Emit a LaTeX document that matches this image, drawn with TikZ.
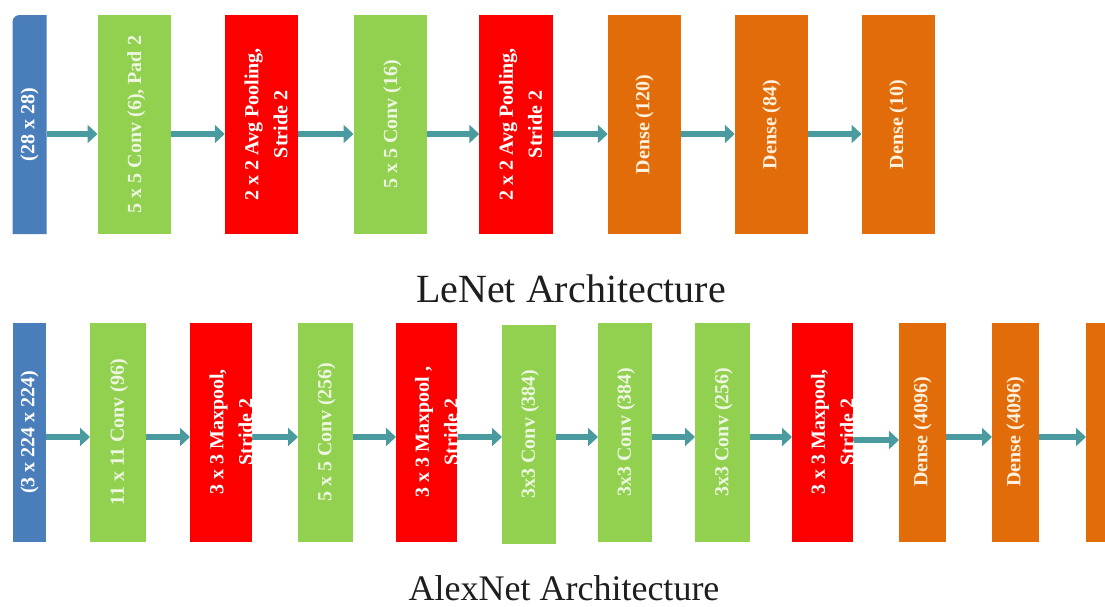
\documentclass[tikz,border=0pt]{standalone}
\usepackage{fontspec}
\setmainfont{Liberation Serif}
\usetikzlibrary{arrows.meta,calc}
\definecolor{blueC}{RGB}{74,126,187}
\definecolor{greenC}{RGB}{146,208,80}
\definecolor{redC}{RGB}{252,0,0}
\definecolor{orangeC}{RGB}{227,108,10}
\definecolor{arrowC}{RGB}{74,155,160}
\definecolor{greenTxt}{RGB}{236,246,224}
\definecolor{orangeTxt}{RGB}{255,241,222}
\definecolor{titleC}{RGB}{30,30,30}
\begin{document}
\begin{tikzpicture}[x=1pt,y=-1pt,
  layer/.style={inner sep=0pt, outer sep=0pt, draw=none},
  conv/.style={layer, fill=greenC},
  pool/.style={layer, fill=redC},
  dense/.style={layer, fill=orangeC},
  inp/.style={layer},
  lenet/.style={minimum height=219pt, minimum width=73.5pt},
  alex/.style={minimum height=219pt},
  txt/.style={rotate=90, font=\bfseries\fontsize{20}{29}\selectfont, inner sep=0pt, align=center, text=white},
  gtxt/.style={txt, text=greenTxt},
  otxt/.style={txt, text=orangeTxt},
  arr/.style={draw=arrowC, line width=5.5pt, -{Triangle[length=10pt,width=18pt]}},
  title/.style={text=titleC, anchor=base, inner sep=0pt}]
\useasboundingbox (0,0) rectangle (1105,606);
\clip (0,0) rectangle (1105,606);

% ---------------- LeNet ----------------
\node[inp, lenet, minimum width=34pt] (lin) at (29.5,124.5) {};
\fill[blueC] (lin.south west) -- ($(lin.north west)+(0,7)$) arc[start angle=180,end angle=270,radius=7] -- (lin.north east) -- (lin.south east) -- cycle;
\node[conv, lenet] (lc1) at (134.25,124.5) {};
\node[pool, lenet] (lp1) at (261.5,124.5) {};
\node[conv, lenet] (lc2) at (390.25,124.5) {};
\node[pool, lenet] (lp2) at (516,124.5) {};
\node[dense, lenet] (ld1) at (644.5,124.5) {};
\node[dense, lenet] (ld2) at (771.5,124.5) {};
\node[dense, lenet] (ld3) at (898.25,124.5) {};

\coordinate (ly) at (0,134);
\draw[arr] (lin.east |- ly) -- (lc1.west |- ly);
\draw[arr] (lc1.east |- ly) -- (lp1.west |- ly);
\draw[arr] (lp1.east |- ly) -- (lc2.west |- ly);
\draw[arr] (lc2.east |- ly) -- (lp2.west |- ly);
\draw[arr] (lp2.east |- ly) -- (ld1.west |- ly);
\draw[arr] (ld1.east |- ly) -- (ld2.west |- ly);
\draw[arr] (ld2.east |- ly) -- (ld3.west |- ly);

\node[txt] (lint) at (lin) {(28 x 28)};
\node[gtxt] (lc1t) at ($(lc1)+(2,0)$) {5 x 5 Conv (6), Pad 2};
\node[txt] (lp1t) at ($(lp1)+(4.5,0)$) {2 x 2 Avg Pooling,\\Stride 2};
\node[gtxt] (lc2t) at ($(lc2)+(2,0)$) {5 x 5 Conv (16)};
\node[txt] (lp2t) at ($(lp2)+(4.5,0)$) {2 x 2 Avg Pooling,\\Stride 2};
\node[otxt] (ld1t) at (ld1) {Dense (120)};
\node[otxt] (ld2t) at (ld2) {Dense (84)};
\node[otxt] (ld3t) at (ld3) {Dense (10)};

\node[title, font=\fontsize{40}{44}\selectfont] (ltitle) at (571,302) {LeNet Architecture};

% ---------------- AlexNet ----------------
\node[inp, alex, minimum width=33pt, fill=blueC] (ain) at (29.5,432) {};
\node[conv, alex, minimum width=56pt] (ac1) at (118,432) {};
\node[pool, alex, minimum width=62pt] (ap1) at (221,432) {};
\node[conv, alex, minimum width=55pt] (ac2) at (325.5,432) {};
\node[pool, alex, minimum width=61pt] (ap2) at (426.5,432) {};
\node[conv, alex, minimum width=54pt] (ac3) at (529,434) {};
\node[conv, alex, minimum width=54pt] (ac4) at (625,432) {};
\node[conv, alex, minimum width=55pt] (ac5) at (722.5,432) {};
\node[pool, alex, minimum width=61pt] (ap3) at (822.5,432) {};
\node[dense, alex, minimum width=47pt] (ad1) at (922.5,432) {};
\node[dense, alex, minimum width=47pt] (ad2) at (1015.5,432) {};
\node[dense, alex, minimum width=47pt] (ad3) at (1109.5,432) {};

\coordinate (ay) at (0,437);
\coordinate (ay2) at (0,440);
\draw[arr] (ain.east |- ay) -- (ac1.west |- ay);
\draw[arr] (ac1.east |- ay) -- (ap1.west |- ay);
\draw[arr] (ap1.east |- ay) -- (ac2.west |- ay);
\draw[arr] (ac2.east |- ay) -- (ap2.west |- ay);
\draw[arr] (ap2.east |- ay) -- (ac3.west |- ay);
\draw[arr] (ac3.east |- ay) -- (ac4.west |- ay);
\draw[arr] (ac4.east |- ay) -- (ac5.west |- ay);
\draw[arr] (ac5.east |- ay) -- (ap3.west |- ay);
\draw[arr] (ap3.east |- ay2) -- (ad1.west |- ay2);
\draw[arr] (ad1.east |- ay) -- (ad2.west |- ay);
\draw[arr] (ad2.east |- ay) -- (ad3.west |- ay);

\node[txt] (aint) at (ain) {(3 x 224 x 224)};
\node[gtxt] (ac1t) at ($(ac1)+(1,0)$) {11 x 11 Conv (96)};
\node[txt] (ap1t) at ($(ap1)+(10,0)$) {3 x 3 Maxpool,\\Stride 2};
\node[gtxt] (ac2t) at ($(ac2)+(1,0)$) {5 x 5 Conv (256)};
\node[txt] (ap2t) at ($(ap2)+(10,0)$) {3 x 3 Maxpool ,\\Stride 2};
\node[gtxt] (ac3t) at ($(ac3)+(1,0)$) {3x3 Conv (384)};
\node[gtxt] (ac4t) at ($(ac4)+(1,0)$) {3x3 Conv (384)};
\node[gtxt] (ac5t) at ($(ac5)+(1,0)$) {3x3 Conv (256)};
\node[txt] (ap3t) at ($(ap3)+(10,0)$) {3 x 3 Maxpool,\\Stride 2};
\node[otxt] (ad1t) at (ad1) {Dense (4096)};
\node[otxt] (ad2t) at (ad2) {Dense (4096)};

\node[title, font=\fontsize{36}{40}\selectfont] (atitle) at (564,600) {AlexNet Architecture};
\end{tikzpicture}
\end{document}
